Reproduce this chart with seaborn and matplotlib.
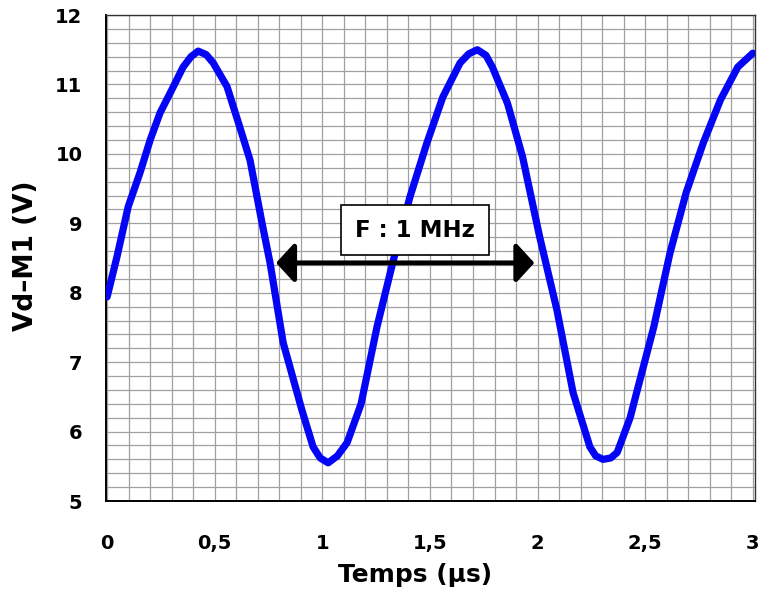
import matplotlib
matplotlib.use('Agg')
import matplotlib.pyplot as plt
from matplotlib.ticker import MultipleLocator
import pandas as pd
import seaborn as sns

# values (time in µs, voltage in V)
temps_us = [0.0, 0.046, 0.098, 0.153, 0.2, 0.246, 0.30, 0.353, 0.39, 0.423,
            0.46, 0.493, 0.557, 0.618, 0.664, 0.72, 0.757, 0.818, 0.905, 0.957,
            0.99, 1.027, 1.07, 1.115, 1.18, 1.254, 1.33, 1.407, 1.486, 1.56,
            1.64, 1.68, 1.72, 1.76, 1.79, 1.86, 1.93, 2.01, 2.09, 2.165,
            2.243, 2.27, 2.304, 2.34, 2.37, 2.43, 2.46, 2.54, 2.615, 2.69,
            2.77, 2.85, 2.93, 3.0]
vd_m1 = [7.94, 8.52, 9.24, 9.73, 10.2, 10.59, 10.92, 11.25, 11.4, 11.48,
         11.43, 11.31, 10.97, 10.37, 9.91, 9.0, 8.43, 7.28, 6.31, 5.78,
         5.62, 5.55, 5.65, 5.84, 6.4, 7.51, 8.47, 9.38, 10.16, 10.82,
         11.31, 11.44, 11.5, 11.42, 11.25, 10.73, 9.96, 8.80, 7.75, 6.56,
         5.78, 5.65, 5.6, 5.62, 5.7, 6.2, 6.56, 7.51, 8.57, 9.44,
         10.16, 10.78, 11.25, 11.45]

x_ticks = [0, 0.5, 1, 1.5, 2, 2.5, 3]
x_tick_labels = ['0', '0,5', '1', '1,5', '2', '2,5', '3']
y_ticks = [5, 6, 7, 8, 9, 10, 11, 12]
freq_label = 'F : 1 MHz'

df = pd.DataFrame({'t': temps_us, 'v': vd_m1})

sns.set_style('white')
plt.rcParams['font.family'] = ['DejaVu Sans']
plt.rcParams['font.weight'] = 'bold'
plt.rcParams['text.color'] = 'black'
plt.rcParams['axes.labelcolor'] = 'black'
plt.rcParams['xtick.color'] = 'black'
plt.rcParams['ytick.color'] = 'black'

fig = plt.figure(figsize=(7.59, 5.93), dpi=100)
ax = fig.add_axes([0.1397, 0.1551, 0.855, 0.8196])

sns.lineplot(data=df, x='t', y='v', ax=ax, color='#0505f5', lw=5.2,
             solid_joinstyle='round', solid_capstyle='round', zorder=3)

ax.set_xlim(-0.005, 3.01)
ax.set_ylim(5, 12)
ax.set_xticks(x_ticks)
ax.set_xticklabels(x_tick_labels)
ax.set_yticks(y_ticks)
ax.xaxis.set_minor_locator(MultipleLocator(0.1))
ax.yaxis.set_minor_locator(MultipleLocator(0.2))

ax.set_axisbelow(True)
ax.grid(which='both', color='#a0a0a0', lw=0.9)

for s in ['top', 'right']:
    ax.spines[s].set_linewidth(1.0)
    ax.spines[s].set_color('#333333')
for s in ['left', 'bottom']:
    ax.spines[s].set_linewidth(1.4)
    ax.spines[s].set_color('black')

ax.tick_params(which='major', direction='out', length=11, width=1.4,
               labelsize=14, color='black', labelcolor='black')
ax.tick_params(which='minor', direction='out', length=6.5, width=1.2,
               color='black')
ax.tick_params(axis='x', which='major', pad=13)
ax.tick_params(axis='y', which='major', pad=6)
for lab in ax.get_xticklabels() + ax.get_yticklabels():
    lab.set_fontweight('bold')

ax.set_xlabel('Temps (µs)', fontsize=18, fontweight='bold', color='black')
ax.set_ylabel('Vd–M1 (V)', fontsize=19, fontweight='bold', color='black')
ax.xaxis.set_label_coords(0.476, -0.128)
ax.yaxis.set_label_coords(-0.104, 0.504)

ax.annotate('', xy=(1.985, 8.43), xytext=(0.785, 8.43),
            arrowprops=dict(arrowstyle='<|-|>,head_length=0.55,head_width=0.6',
                            lw=3.5, color='black', mutation_scale=20,
                            shrinkA=0, shrinkB=0), zorder=5)
ax.text(1.43, 8.9, freq_label, fontsize=16.5, fontweight='bold',
        ha='center', va='center', zorder=6, color='black',
        bbox=dict(boxstyle='square,pad=0.6', fc='white', ec='black', lw=1.2))

plt.savefig('out.png', dpi=100)
